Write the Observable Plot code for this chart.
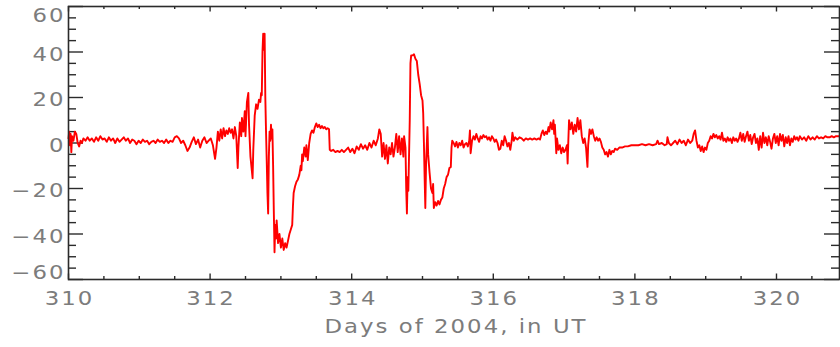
<!DOCTYPE html>
<html>
<head>
<meta charset="utf-8">
<script src="https://cdn.jsdelivr.net/npm/d3@7"></script>
<script src="https://cdn.jsdelivr.net/npm/@observablehq/plot@0.6"></script>
<style>
  body { margin: 0; background: #fff; }
  #chart svg { display: block; }
</style>
</head>
<body>
<div id="chart"></div>
<script>
// Field component, nT, sampled as [day of 2004, value]

const quietStart = [
  [310.00, 2], [310.01, 5], [310.02, -1], [310.03, 4], [310.04, -4], [310.05, 3], [310.07, 1],
  [310.09, 5], [310.11, 4], [310.13, 0], [310.15, -1.5], [310.17, 1], [310.19, 0], [310.21, 2],
  [310.24, 1], [310.27, 2.5], [310.30, 1], [310.33, 2], [310.36, 0.5], [310.39, 2.5], [310.42, 1],
  [310.45, 3], [310.48, 1.5], [310.51, 2], [310.54, 0.5], [310.57, 2.5], [310.60, 1], [310.63, 2],
  [310.66, 0], [310.69, 2], [310.72, 0.5], [310.75, 1.5], [310.78, 2.5], [310.81, 1], [310.84, 2],
  [310.87, 0], [310.90, 1.5], [310.93, 1], [310.96, -0.5], [310.99, 1], [311.02, 0], [311.05, 1.5],
  [311.08, 0.5], [311.11, 1], [311.14, -0.5], [311.17, 0.5], [311.20, 1], [311.23, 0], [311.26, 1.5],
  [311.29, 0.5], [311.32, 1], [311.35, 0], [311.38, 1.5], [311.41, 0], [311.44, 1], [311.47, 0.5],
  [311.50, 2.5], [311.53, 3], [311.56, 2], [311.59, 0], [311.62, 1], [311.65, -1], [311.68, -3.5],
  [311.71, -2], [311.74, 0.5], [311.77, 2.5], [311.80, -0.5], [311.83, 1.5], [311.86, -2], [311.89, 1],
  [311.92, 2.5], [311.95, 0], [311.98, 1], [312.01, 2], [312.04, -1], [312.07, -7], [312.09, -2]
];

const firstEvent = [
  [312.11, 5], [312.13, 1], [312.15, 6], [312.17, 2], [312.19, 6.5], [312.21, 3], [312.23, 5.5],
  [312.25, 4], [312.27, 6.5], [312.29, 4.5], [312.31, 6], [312.33, 2], [312.35, 7], [312.37, 3],
  [312.39, -11], [312.40, -2], [312.42, 9], [312.44, 3], [312.45, 11], [312.47, 5], [312.49, 14],
  [312.50, 3], [312.52, 18], [312.54, 22], [312.55, 8], [312.57, -6], [312.60, -15.5], [312.61, -3],
  [312.63, 12], [312.65, 17], [312.67, 15], [312.69, 19], [312.71, 18], [312.72, 22], [312.73, 21],
  [312.74, 40], [312.75, 48], [312.76, 41], [312.77, 48], [312.78, 20], [312.79, 5], [312.80, -8],
  [312.81, -22], [312.82, -31], [312.83, -6], [312.84, 5], [312.85, 1], [312.86, 8], [312.87, 2],
  [312.88, 6], [312.89, -10], [312.90, -30], [312.91, -48], [312.92, -36], [312.93, -42], [312.94, -34],
  [312.96, -44], [312.98, -40], [313.00, -46], [313.02, -42], [313.04, -47], [313.06, -44], [313.08, -46],
  [313.10, -43], [313.12, -40], [313.14, -38], [313.16, -36], [313.17, -28], [313.18, -22], [313.20, -19],
  [313.22, -17], [313.24, -16], [313.26, -14], [313.28, -10], [313.29, -12], [313.30, -5], [313.31, -8],
  [313.33, -2], [313.35, -6], [313.36, -1], [313.38, -7.5], [313.40, 0], [313.42, 4], [313.44, 5.5],
  [313.46, 4.5], [313.48, 7], [313.50, 8.6], [313.52, 7], [313.54, 8], [313.56, 6.5], [313.58, 7.5],
  [313.60, 6.5], [313.62, 7], [313.64, 6], [313.66, 6.5], [313.68, 6], [313.69, -3]
];

const between = [
  [313.71, -3.5], [313.74, -3], [313.77, -4], [313.80, -3.5], [313.83, -4], [313.86, -3], [313.89, -4],
  [313.92, -3], [313.95, -2], [313.98, -4], [314.01, -2.5], [314.04, -4.5], [314.07, -1.5], [314.10, -3],
  [314.13, -0.5], [314.16, -2.5], [314.19, -1], [314.22, -3], [314.25, 0], [314.28, -2], [314.31, 1],
  [314.34, -1], [314.37, 2], [314.39, 6], [314.41, 4], [314.43, -6]
];

const secondEvent = [
  [314.45, 0], [314.47, -7], [314.49, -1], [314.51, -9], [314.53, -2], [314.55, -5], [314.57, 0],
  [314.59, -6], [314.61, -2], [314.63, 4], [314.65, -4], [314.67, 3], [314.69, -5], [314.71, 2],
  [314.73, -6], [314.74, 3], [314.76, -2], [314.77, -20], [314.78, -31], [314.79, -15], [314.80, -21],
  [314.82, 10], [314.83, 35], [314.84, 38.5], [314.86, 38.5], [314.88, 39], [314.90, 37], [314.92, 36],
  [314.94, 30], [314.96, 26], [314.98, 21], [315.00, 18.7], [315.01, 13], [315.02, 0], [315.03, -15],
  [315.04, -28.6], [315.05, -10], [315.07, 7], [315.08, -5], [315.10, -13], [315.12, -20], [315.14, -22],
  [315.15, -18], [315.16, -28.6], [315.18, -26], [315.20, -27.5], [315.22, -25.5], [315.24, -27],
  [315.26, -25], [315.28, -24], [315.30, -20], [315.32, -18], [315.34, -15], [315.36, -14], [315.38, -11],
  [315.40, -10.5], [315.41, -2], [315.42, 1], [315.44, 0]
];

const recovery = [
  [315.46, -1.5], [315.48, 0.5], [315.50, -2], [315.52, 0], [315.54, -1], [315.56, 1], [315.58, -2],
  [315.60, -0.5], [315.62, 0], [315.64, -1.5], [315.66, 1], [315.67, 5.5], [315.68, -4.5], [315.70, 1],
  [315.72, 3], [315.74, 1.5], [315.76, 4], [315.78, 2], [315.80, 0.5], [315.82, 3], [315.84, 2],
  [315.86, 3.5], [315.88, 2.5], [315.90, 3], [315.92, 1.5], [315.94, 2.5], [315.96, 1], [315.98, 3],
  [316.00, 2], [316.02, 0.5], [316.04, 1.5], [316.06, 0], [316.08, -3], [316.10, -2.5], [316.12, 1],
  [316.14, -1], [316.16, 3], [316.18, 1], [316.20, -1.5], [316.22, 0], [316.24, -3], [316.26, 1],
  [316.27, 4.5], [316.29, 1], [316.31, 2.5], [316.34, 1.5], [316.37, 2.5], [316.40, 2], [316.43, 1],
  [316.46, 2], [316.49, 1.5], [316.52, 2], [316.55, 1.5], [316.58, 2], [316.61, 1.5], [316.64, 2],
  [316.66, 1.5], [316.68, 4], [316.70, 5.5], [316.72, 3.5], [316.74, 5], [316.76, 4], [316.78, 7],
  [316.79, 5], [316.81, 9], [316.83, 6], [316.85, 10], [316.86, 4], [316.87, 8], [316.89, -4.5],
  [316.90, 2], [316.92, -3], [316.94, -1], [316.96, -4.5], [316.98, -2], [317.00, -4], [317.02, -3],
  [317.04, -1], [317.05, -9], [317.06, 1], [317.07, 10], [317.09, 6], [317.11, 9], [317.13, 4],
  [317.15, 8], [317.17, 5], [317.19, 11], [317.21, 6], [317.23, 10], [317.25, 3], [317.27, 0],
  [317.29, 2], [317.31, -2], [317.33, -10.5], [317.34, -1], [317.36, 6], [317.38, 4], [317.40, 6],
  [317.42, 3], [317.44, 1], [317.46, 2.5], [317.48, 1], [317.50, 2], [317.52, 0.5], [317.54, -2],
  [317.56, -3], [317.58, -5], [317.60, -4], [317.62, -6], [317.64, -3], [317.66, -5], [317.68, -3.5],
  [317.70, -4], [317.72, -2.5], [317.75, -3], [317.78, -2]
];

const quietEnd = [
  [317.82, -2], [317.86, -1.5], [317.90, -1.5], [317.95, -1], [318.00, -1], [318.05, -1], [318.10, -0.5],
  [318.15, -1], [318.20, -0.5], [318.25, -1], [318.30, -0.5], [318.32, 1], [318.34, -0.5], [318.38, 0],
  [318.42, -1], [318.45, -0.5], [318.46, 2.5], [318.48, 0], [318.51, -1], [318.54, 0], [318.57, 1],
  [318.60, -0.5], [318.63, 1.5], [318.66, 0], [318.69, 1], [318.72, -1], [318.75, 1.5], [318.78, 0],
  [318.81, 1], [318.83, 4], [318.85, 5.5], [318.87, 1], [318.89, -2], [318.91, -1], [318.93, -3.5],
  [318.95, -1.5], [318.97, -4], [318.99, -2], [319.01, -3], [319.03, 0], [319.05, 1], [319.07, 3],
  [319.09, 2], [319.11, 4], [319.13, 2.5], [319.15, 3.5], [319.17, 2], [319.19, 3], [319.21, 1.5],
  [319.23, 4.5], [319.25, 1], [319.27, 2], [319.29, 0.5], [319.31, 2.5], [319.33, 1], [319.35, 2],
  [319.37, 0], [319.39, 2.5], [319.41, 1], [319.43, 2], [319.45, 0.5], [319.47, 2], [319.49, 4.5],
  [319.51, 1], [319.53, 4], [319.55, 0.5], [319.57, 3], [319.59, 5], [319.61, 1], [319.63, 3.5],
  [319.65, -0.5], [319.67, 2.5], [319.69, 4], [319.71, 0], [319.73, 2], [319.75, -3], [319.77, 3],
  [319.79, -2], [319.81, 4.5], [319.83, 0], [319.85, 2.5], [319.87, -1], [319.89, 3], [319.91, 0.5],
  [319.93, -2.5], [319.95, 2], [319.97, 4], [319.99, 0], [320.01, 3], [320.03, -1], [320.05, 4],
  [320.07, 1], [320.09, 3.5], [320.11, -1.5], [320.13, 2.5], [320.15, 0], [320.17, 3], [320.19, -1],
  [320.21, 2], [320.23, 0.5], [320.25, 3], [320.27, 1.5], [320.29, 2.5], [320.31, 1], [320.33, 3],
  [320.36, 1.5], [320.39, 2.5], [320.42, 1], [320.45, 3], [320.48, 1.5], [320.51, 2.5], [320.54, 1.5],
  [320.57, 3], [320.60, 2], [320.63, 2.5], [320.66, 2], [320.69, 3], [320.72, 2.5], [320.75, 2.5],
  [320.78, 3], [320.81, 2.5], [320.84, 3], [320.87, 3], [320.90, 3]
];

// Axis ticks and labels
const yTicks = [-60, -40, -20, 0, 20, 40, 60];
const yMinorTicks = [-55, -50, -45, -35, -30, -25, -15, -10, -5, 5, 10, 15, 25, 30, 35, 45, 50, 55];
const xTicks = [310, 312, 314, 316, 318, 320];
const xMinorTicks = [310.5, 311, 311.5, 312.5, 313, 313.5, 314.5, 315, 315.5, 316.5, 317, 317.5,
                     318.5, 319, 319.5, 320.5];
const xTitle = "Days of 2004, in UT";

const series = [...quietStart, ...firstEvent, ...between, ...secondEvent, ...recovery, ...quietEnd]
  .map(([day, value]) => ({day, value}));

const W = 840, H = 347;
const mL = 68, mR = 1, mT = 6, mB = 68;
const iw = W - mL - mR, ih = H - mT - mB;
const axisColor = "#2b2b2b";
const labelColor = "#7c7c7c";
const font = "'DejaVu Sans', sans-serif";
const fmt = d => d < 0 ? "\u2212" + Math.abs(d) : String(d);
const glyphWiden = 1.2; // labels are drawn in a wide, open face

const yMajorLen = 15, yMinorLen = 8, xMajorLen = 5.5, xMinorLen = 3;
const tickStyle = {stroke: axisColor, strokeWidth: 1.4};

const labelStyle = {fill: labelColor, fontSize: 19};

const chart = Plot.plot({
  width: W,
  height: H,
  marginLeft: mL,
  marginRight: mR,
  marginTop: mT,
  marginBottom: mB,
  style: {fontFamily: font, letterSpacing: "1.7px", background: "#fff", overflow: "visible"},
  x: {domain: [310, 320.89], axis: null},
  y: {domain: [-60, 60], axis: null},
  marks: [
    // tick marks on all four sides, pointing inward
    Plot.tickY(yTicks, {y: d => d, ...tickStyle, insetRight: iw - yMajorLen}),
    Plot.tickY(yTicks, {y: d => d, ...tickStyle, insetLeft: iw - yMajorLen}),
    Plot.tickY(yMinorTicks, {y: d => d, ...tickStyle, insetRight: iw - yMinorLen}),
    Plot.tickY(yMinorTicks, {y: d => d, ...tickStyle, insetLeft: iw - yMinorLen}),
    Plot.tickX(xTicks, {x: d => d, ...tickStyle, insetTop: ih - xMajorLen}),
    Plot.tickX(xTicks, {x: d => d, ...tickStyle, insetBottom: ih - xMajorLen}),
    Plot.tickX(xMinorTicks, {x: d => d, ...tickStyle, insetTop: ih - xMinorLen}),
    Plot.tickX(xMinorTicks, {x: d => d, ...tickStyle, insetBottom: ih - xMinorLen}),

    // the data trace
    Plot.line(series, {x: "day", y: "value", stroke: "#ff0000", strokeWidth: 1.9, strokeLinejoin: "round"}),

    Plot.frame({stroke: axisColor, strokeWidth: 1.6}),

    // y tick labels (end labels kept inside the frame height)
    Plot.text(yTicks.filter(d => Math.abs(d) < 60), {
      y: d => d, text: fmt, frameAnchor: "left", textAnchor: "end", dx: -3, dy: 2.5, ...labelStyle
    }),
    Plot.text([60], {y: d => d, text: fmt, frameAnchor: "left", textAnchor: "end", dx: -3, dy: 9, ...labelStyle}),
    Plot.text([-60], {y: d => d, text: fmt, frameAnchor: "left", textAnchor: "end", dx: -3, dy: -7, ...labelStyle}),

    // x tick labels
    Plot.text(xTicks, {x: d => d, text: fmt, frameAnchor: "bottom", dx: 1, dy: 25.5, ...labelStyle}),

    // x axis title
    Plot.text([xTitle], {text: d => d, frameAnchor: "bottom", dx: 2, dy: 53, ...labelStyle})
  ]
});

// widen every label glyph horizontally about its own anchor point
d3.select(chart).selectAll("text").each(function() {
  const t = this.getAttribute("transform");
  if (t) {
    this.setAttribute("transform", `${t} scale(${glyphWiden},1)`);
  } else {
    const x = +this.getAttribute("x") || 0, y = +this.getAttribute("y") || 0;
    this.setAttribute("x", 0);
    this.setAttribute("y", 0);
    this.setAttribute("transform", `translate(${x},${y}) scale(${glyphWiden},1)`);
  }
});

document.getElementById("chart").append(chart);
</script>
</body>
</html>
